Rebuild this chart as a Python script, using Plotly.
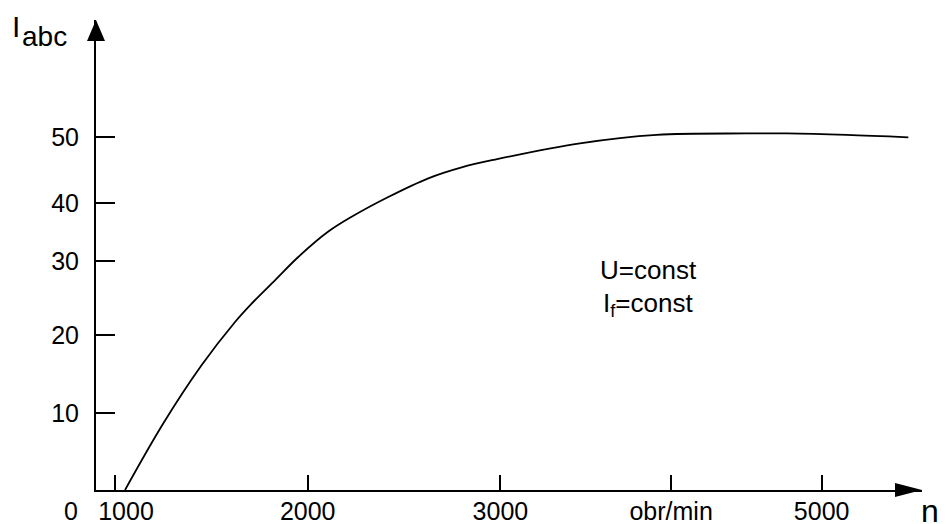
import plotly.graph_objects as go

# curve: rotational speed n (axis units) vs current I_abc (axis units)
n_rpm = [1052, 1251, 1450, 1623, 1709, 1830, 1951, 2107, 2228, 2418, 2626,
         2799, 2972, 3413, 3811, 4278, 4486, 4797, 5117]
i_abc = [0.0, 9.45, 17.7, 23.8, 26.4, 29.7, 33.0, 36.6, 38.7, 41.5, 44.15,
         45.7, 46.8, 49.1, 50.3, 50.5, 50.5, 50.3, 49.96]

x_tick_pos = [1000, 2000, 3000, 3886, 4667]
x_label_pos = [1057, 2000, 3000, 3886, 4667]
x_label_text = ["1000", "2000", "3000", "obr/min", "5000"]
y_tick_pos = [10.9, 21.95, 32.4, 40.65, 50.0]
y_tick_text = ["10", "20", "30", "40", "50"]

# page body has an 8px margin: size the figure so it fills the window exactly
OFF = 8
W, H = 948 - OFF, 524 - OFF
L, T = 96 - OFF, 20 - OFF
R, B = W - (922 - OFF), H - (490 - OFF)
PW, PH = W - L - R, H - T - B
FONT = "Liberation Sans, Arial, sans-serif"
XR = [1000 - 19 / 0.1927, 1000 + 807 / 0.1927]
YR = [0, 470 / 7.06]


def px(x):  # window pixel -> paper
    return (x - 96) / PW


def py(y):
    return (490 - y) / PH


fig = go.Figure()
fig.add_trace(go.Scatter(
    x=n_rpm, y=i_abc, mode="lines",
    line=dict(color="black", width=1.8, shape="spline", smoothing=1.0),
    showlegend=False, hoverinfo="skip",
))
# carrier for the label-only axis
fig.add_trace(go.Scatter(x=XR, y=YR, xaxis="x2", mode="lines",
                         line=dict(width=0), opacity=0,
                         showlegend=False, hoverinfo="skip"))

# arrowheads
fig.add_shape(type="path", xref="paper", yref="paper",
              path=f"M {px(96)} {py(20)} L {px(87)} {py(41)} L {px(105)} {py(41)} Z",
              fillcolor="black", line=dict(width=0))
fig.add_shape(type="path", xref="paper", yref="paper",
              path=f"M {px(922)} {py(490)} L {px(895)} {py(483)} L {px(895)} {py(497)} Z",
              fillcolor="black", line=dict(width=0))

ann = [
    dict(text="I", x=px(11), y=py(9), xanchor="left", yanchor="top", size=30),
    dict(text="abc", x=px(21), y=py(53), xanchor="left", yanchor="bottom", size=28),
    dict(text="n", x=px(940), y=py(511), xanchor="right", yanchor="middle", size=32),
    dict(text="0", x=px(71), y=py(511), xanchor="center", yanchor="middle", size=25),
    dict(text="U=const", x=px(648), y=py(270), xanchor="center", yanchor="middle", size=26),
    dict(text="I<sub>f</sub>=const", x=px(648), y=py(304), xanchor="center",
         yanchor="middle", size=26),
]
for a in ann:
    s = a.pop("size")
    fig.add_annotation(**a, xref="paper", yref="paper", showarrow=False, borderpad=0,
                       font=dict(family=FONT, size=s, color="black"))

fig.update_layout(
    width=W, height=H,
    margin=dict(l=L, r=R, t=T, b=B, pad=0, autoexpand=False),
    paper_bgcolor="white", plot_bgcolor="white",
    font=dict(family=FONT, size=25, color="black"),
    xaxis=dict(range=XR, tickvals=x_tick_pos, showticklabels=False,
               ticks="inside", ticklen=15, tickwidth=2, tickcolor="black",
               showline=True, linewidth=2, linecolor="black",
               showgrid=False, zeroline=False, automargin=False),
    xaxis2=dict(range=XR, overlaying="x", anchor="y", side="bottom",
                tickvals=x_label_pos, ticktext=x_label_text, ticks="",
                showline=False, showgrid=False, zeroline=False,
                automargin=False, ticklabelstandoff=4),
    yaxis=dict(range=YR, tickvals=y_tick_pos, ticktext=y_tick_text,
               ticks="inside", ticklen=19, tickwidth=2, tickcolor="black",
               showline=True, linewidth=2, linecolor="black",
               showgrid=False, zeroline=False, automargin=False,
               ticklabelstandoff=10),
)

fig.write_html("out.html")
